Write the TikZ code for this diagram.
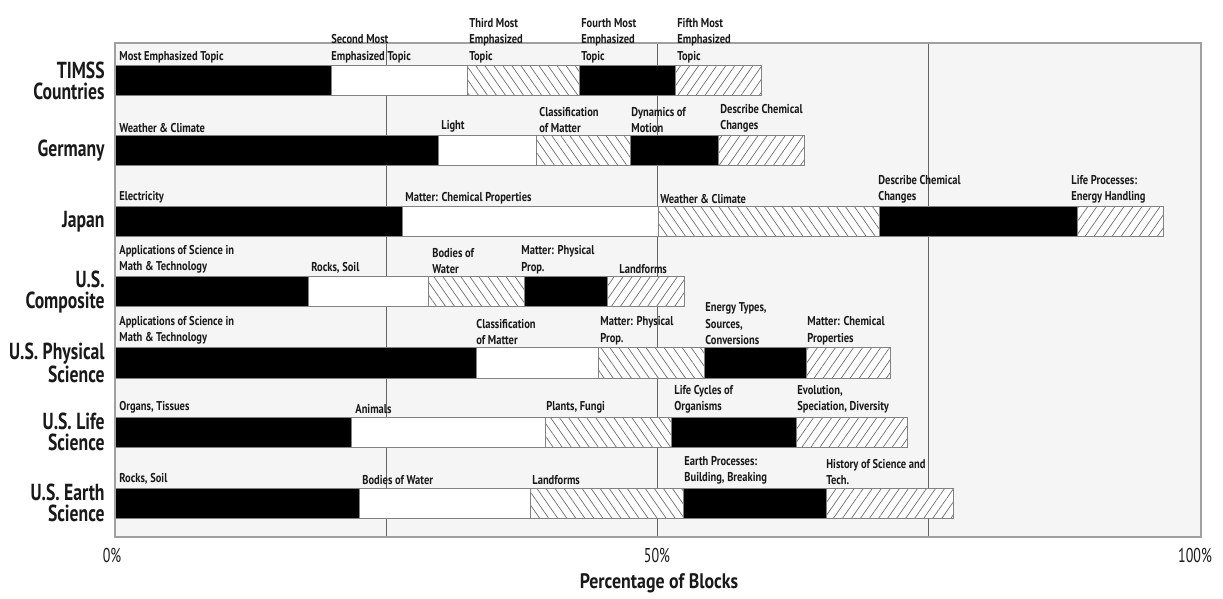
\documentclass[tikz,border=0pt]{standalone}
\usepackage{fontspec}
\setmainfont{PT Sans}
\newfontfamily\lblfamily[FakeStretch=0.82]{PT Sans}
\newfontfamily\rowfamily[FakeStretch=0.76]{PT Sans}
\newfontfamily\tickfamily[FakeStretch=0.7]{PT Sans}
\newfontfamily\titlefamily[FakeStretch=0.85]{PT Sans}
\usepackage{xcolor}
\usetikzlibrary{patterns.meta}
\definecolor{panelgray}{RGB}{245,245,245}
\definecolor{framegray}{RGB}{160,160,160}
\definecolor{gridgray}{RGB}{100,100,100}
\definecolor{bargray}{RGB}{130,130,130}
\definecolor{hatchgray}{RGB}{110,110,110}
\definecolor{inkgray}{RGB}{25,25,25}
\newcommand{\lblfont}{\lblfamily\bfseries\fontsize{6.4}{8.2}\selectfont}
\newcommand{\rowfont}{\rowfamily\bfseries\fontsize{11.6}{10.3}\selectfont}
\newcommand{\axisfont}{\tickfamily\fontsize{10}{11}\selectfont}
\tikzset{
  topic/.style={anchor=south west, align=left, inner sep=0pt, text=inkgray, font=\lblfont},
  rowname/.style={anchor=east, align=right, inner sep=0pt, text=inkgray, font=\rowfont},
  ticklbl/.style={inner sep=0pt, text=inkgray, font=\axisfont},
  blackseg/.style={draw=bargray, line width=0.5pt, fill=black},
  whiteseg/.style={draw=bargray, line width=0.5pt, fill=white},
  hatchback/.style={draw=bargray, line width=0.5pt, preaction={fill=white},
    pattern={Lines[angle=-55, distance=3.7pt, line width=0.35pt]}, pattern color=hatchgray},
  hatchfwd/.style={draw=bargray, line width=0.5pt, preaction={fill=white},
    pattern={Lines[angle=55, distance=3.7pt, line width=0.35pt]}, pattern color=hatchgray},
}
% one row of five topics: #1 top of bar, #2..#6 right ends of the segments
\newcommand{\topicbar}[6]{%
  \draw[blackseg] (115,#1) rectangle (#2,#1+30);
  \draw[whiteseg] (#2,#1) rectangle (#3,#1+30);
  \draw[hatchback] (#3,#1) rectangle (#4,#1+30);
  \draw[blackseg] (#4,#1) rectangle (#5,#1+30);
  \draw[hatchfwd] (#5,#1) rectangle (#6,#1+30);
}

\begin{document}
\begin{tikzpicture}[x=0.5pt, y=-0.5pt]
\useasboundingbox[fill=white] (0,0) rectangle (1223,599);

% panel and grid
\fill[panelgray] (115,43) rectangle (1201,537);
\foreach \gx in {386,657,928}
  \draw[gridgray, line width=0.45pt] (\gx,43) -- (\gx,537);

% bars
\topicbar{66}{331}{467}{579}{675}{761}
\topicbar{136}{438}{536}{630}{718}{804}
\topicbar{207}{402}{658}{879}{1077}{1163}
\topicbar{277}{308}{428}{524}{607}{684}
\topicbar{348}{476}{598}{704}{806}{890}
\topicbar{417}{351}{545}{671}{796}{907}
\topicbar{488}{359}{530}{683}{826}{953}

\draw[framegray, line width=1pt] (115,43) rectangle (1201,537);

% row names
\node[rowname] (rTimss) at (105,81) {TIMSS\\Countries};
\node[rowname] (rGermany) at (105,151) {Germany};
\node[rowname] (rJapan) at (105,222) {Japan};
\node[rowname] (rComposite) at (105,292) {U.S.\\Composite};
\node[rowname] (rPhysical) at (105,363) {U.S. Physical\\Science};
\node[rowname] (rLife) at (105,432) {U.S. Life\\Science};
\node[rowname] (rEarth) at (105,503) {U.S. Earth\\Science};

% topic labels
\node[topic] (t1) at (119,63) {Most Emphasized Topic};
\node[topic] (t2) at (331,63) {Second Most\\Emphasized Topic};
\node[topic] (t3) at (469,63) {Third Most\\Emphasized\\Topic};
\node[topic] (t4) at (581,63) {Fourth Most\\Emphasized\\Topic};
\node[topic] (t5) at (677,63) {Fifth Most\\Emphasized\\Topic};

\node[topic] (g1) at (119,133) {Weather \& Climate};
\node[topic] (g2) at (441,133) {Light};
\node[topic] (g3) at (539,133) {Classification\\of Matter};
\node[topic] (g4) at (631,133) {Dynamics of\\Motion};
\node[topic] (g5) at (720,133) {Describe Chemical\\Changes};

\node[topic] (j1) at (119,204) {Electricity};
\node[topic] (j2) at (405,204) {Matter: Chemical Properties};
\node[topic] (j3) at (660,204) {Weather \& Climate};
\node[topic] (j4) at (878,204) {Describe Chemical\\Changes};
\node[topic] (j5) at (1071,204) {Life Processes:\\Energy Handling};

\node[topic] (c1) at (119,274) {Applications of Science in\\Math \& Technology};
\node[topic] (c2) at (311,274) {Rocks, Soil};
\node[topic] (c3) at (432,274) {Bodies of\\Water};
\node[topic] (c4) at (521,274) {Matter: Physical\\Prop.};
\node[topic] (c5) at (619,274) {Landforms};

\node[topic] (p1) at (119,345) {Applications of Science in\\Math \& Technology};
\node[topic] (p2) at (476,345) {Classification\\of Matter};
\node[topic] (p3) at (600,345) {Matter: Physical\\Prop.};
\node[topic] (p4) at (705,345) {Energy Types,\\Sources,\\Conversions};
\node[topic] (p5) at (807,345) {Matter: Chemical\\Properties};

\node[topic] (l1) at (119,414) {Organs, Tissues};
\node[topic] (l2) at (355,414) {Animals};
\node[topic] (l3) at (546,414) {Plants, Fungi};
\node[topic] (l4) at (674,414) {Life Cycles of\\Organisms};
\node[topic] (l5) at (797,414) {Evolution,\\Speciation, Diversity};

\node[topic] (e1) at (119,485) {Rocks, Soil};
\node[topic] (e2) at (362,485) {Bodies of Water};
\node[topic] (e3) at (532,485) {Landforms};
\node[topic] (e4) at (684,485) {Earth Processes:\\Building, Breaking};
\node[topic] (e5) at (826,485) {History of Science and\\Tech.};

% axis
\node[ticklbl] (x0) at (112,555) {0\%};
\node[ticklbl] (x50) at (657,555) {50\%};
\node[ticklbl] (x100) at (1195,555) {100\%};
\node[ticklbl, font=\titlefamily\bfseries\fontsize{10.5}{11}\selectfont] (xtitle) at (659,583) {Percentage of Blocks};
\end{tikzpicture}
\end{document}
